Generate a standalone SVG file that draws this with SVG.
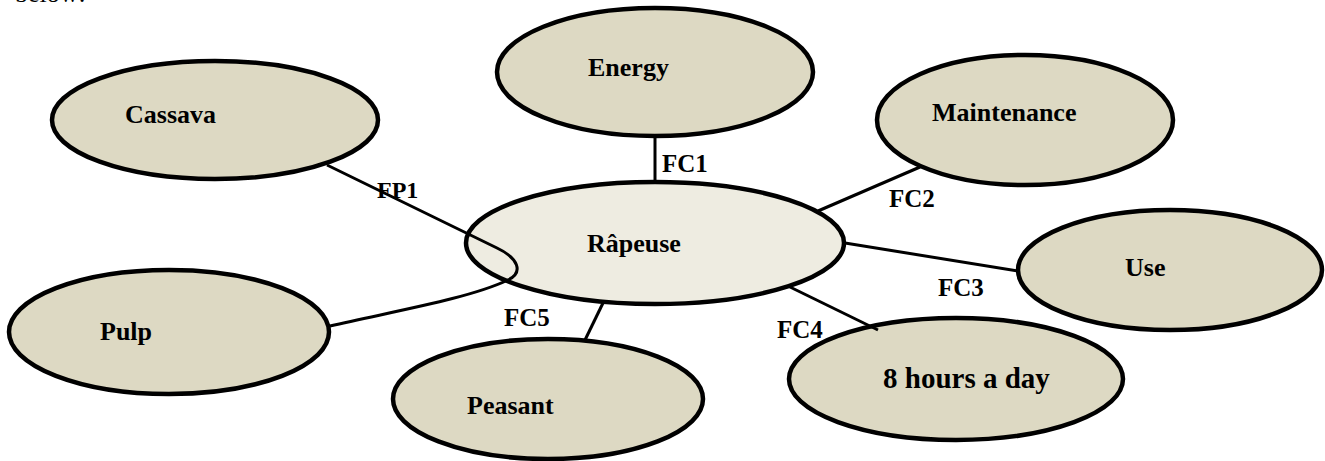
<svg xmlns="http://www.w3.org/2000/svg" width="1325" height="461" viewBox="0 0 1325 461">
<style>
.n{fill:#DDD9C3;stroke:#000;stroke-width:4.5}
.c{fill:#EEECE1;stroke:#000;stroke-width:4.5}
.t{font-family:"Liberation Serif","Times New Roman",serif;font-weight:bold;font-size:26px;fill:#000}
.l{font-family:"Liberation Serif","Times New Roman",serif;font-weight:bold;font-size:25px;fill:#000}
.e{fill:none;stroke:#000;stroke-width:3}
</style>
<rect width="1325" height="461" fill="#fff"/>
<text x="15" y="2" style="font-family:'Liberation Serif',serif;font-size:26px">below:</text>
<g id="cassava"><ellipse class="n" cx="215" cy="120" rx="163" ry="59"/><text class="t" x="125" y="123">Cassava</text></g>
<g id="energy"><ellipse class="n" cx="655" cy="72" rx="158" ry="64"/><text class="t" x="588" y="76">Energy</text></g>
<g id="maintenance"><ellipse class="n" cx="1025" cy="120" rx="148" ry="65"/><text class="t" x="932" y="121">Maintenance</text></g>
<g id="rapeuse"><ellipse class="c" cx="655" cy="243" rx="189" ry="61"/><text class="t" x="587" y="252">Râpeuse</text></g>
<g id="use"><ellipse class="n" cx="1170" cy="270" rx="152" ry="60"/><text class="t" x="1125" y="276">Use</text></g>
<g id="hours"><ellipse class="n" cx="956" cy="379" rx="167" ry="61"/><text class="t" x="883" y="388" style="font-size:29px">8 hours a day</text></g>
<g id="pulp"><ellipse class="n" cx="169" cy="332" rx="160" ry="62"/><text class="t" x="100" y="340">Pulp</text></g>
<g id="peasant"><ellipse class="n" cx="548" cy="399" rx="155" ry="60"/><text class="t" x="467" y="414">Peasant</text></g>
<g id="connectors">
<text class="l" x="377" y="198" style="font-size:24px">FP1</text>
<path class="e" d="M327,165 L497,248 C518,258 524,272 508,280 C470,298 400,310 330,326"/>
<line class="e" x1="655" y1="136" x2="655" y2="182"/>
<text class="l" x="662" y="172">FC1</text>
<line class="e" x1="818" y1="211" x2="920" y2="167"/>
<text class="l" x="889" y="207">FC2</text>
<line class="e" x1="845" y1="243" x2="1018" y2="271"/>
<text class="l" x="938" y="296">FC3</text>
<line class="e" x1="790" y1="287" x2="878" y2="330"/>
<text class="l" x="777" y="338">FC4</text>
<line class="e" x1="603" y1="303" x2="585" y2="340"/>
<text class="l" x="504" y="326">FC5</text>
</g>
</svg>
